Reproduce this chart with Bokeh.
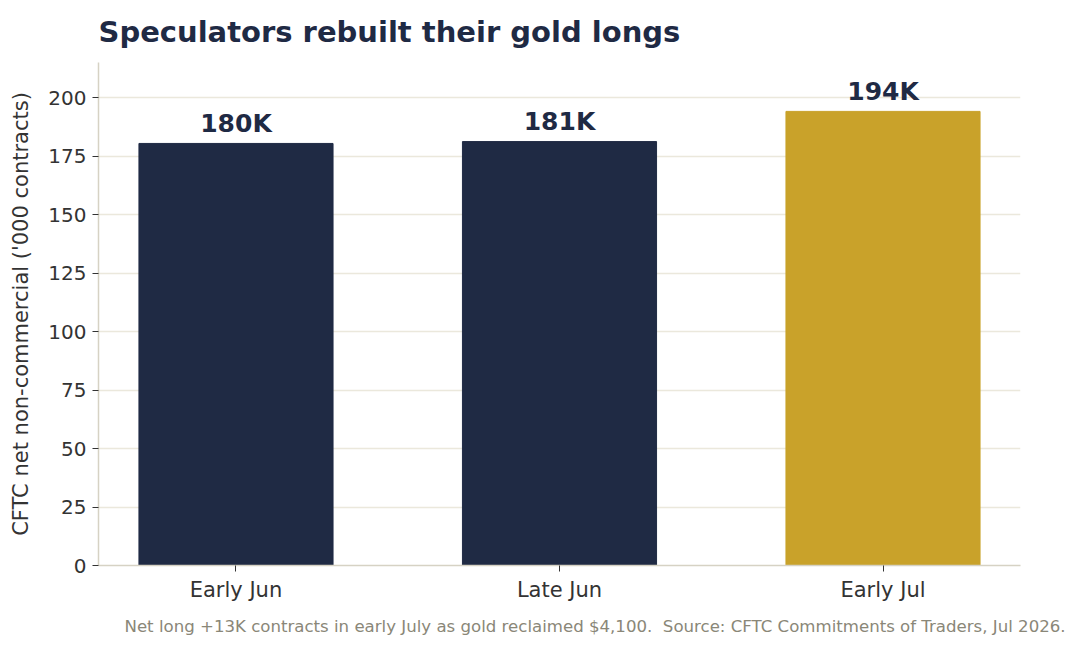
import numpy as np
from bokeh.plotting import figure
from bokeh.models import ColumnDataSource, FactorRange, Range1d, FixedTicker, Title
from bokeh.core.properties import value
from bokeh.embed import file_html
from bokeh.resources import INLINE

periods = ["Early Jun", "Late Jun", "Early Jul"]
net_longs = [180.4, 181.2, 194.1]
bar_labels = ["180K", "181K", "194K"]
bar_colors = ["#1f2a44", "#1f2a44", "#c9a22a"]
y_ticks = [0, 25, 50, 75, 100, 125, 150, 175, 200]

FONT = "DejaVu Sans"
NAVY = "#1f2a44"

src = ColumnDataSource(dict(period=periods, val=net_longs, lab=bar_labels, col=bar_colors))

p = figure(x_range=FactorRange(*periods), y_range=Range1d(0, 215),
           width=1072, height=646, output_backend="svg", toolbar_location=None,
           min_border_left=98, min_border_right=52, min_border_top=62, min_border_bottom=81)
p.x_range.range_padding = -0.05

p.vbar(x="period", top="val", width=0.6, color="col", source=src)
p.text(x="period", y="val", text="lab", source=src, text_align="center",
       text_baseline="alphabetic", y_offset=-20, text_font=value(FONT),
       text_font_style="bold", text_font_size="25px", text_color=NAVY)

p.title.text = "Speculators rebuilt their gold longs"
p.title.text_font = FONT
p.title.text_font_size = "29px"
p.title.text_font_style = "bold"
p.title.text_color = NAVY
p.title.align = "left"
p.title.vertical_align = "top"
p.title.standoff = 24

note = Title(text="Net long +13K contracts in early July as gold reclaimed $4,100.\u00a0 Source: CFTC Commitments of Traders, Jul 2026.",
             text_font=FONT, text_font_size="16.6px", text_font_style="normal",
             text_color="#8a8778", align="left", offset=26, standoff=21)
p.add_layout(note, "below")

p.yaxis.ticker = FixedTicker(ticks=y_ticks)
p.yaxis.axis_label = "CFTC net non-commercial ('000 contracts)"
p.yaxis.axis_label_text_font = FONT
p.yaxis.axis_label_text_font_style = "normal"
p.yaxis.axis_label_text_font_size = "21px"
p.yaxis.axis_label_text_color = "#333333"
p.yaxis.axis_label_standoff = 12

for ax in (p.xaxis, p.yaxis):
    ax.major_label_text_font = FONT
    ax.major_label_text_color = "#333333"
    ax.axis_line_color = "#d6d2c4"
    ax.axis_line_width = 1.5
    ax.major_tick_line_color = "#333333"
    ax.major_tick_in = 0
    ax.major_tick_out = 6
    ax.minor_tick_line_color = None
    ax.major_label_standoff = 6
p.xaxis.major_label_text_font_size = "21px"
p.yaxis.major_label_text_font_size = "20px"

p.xgrid.grid_line_color = None
p.ygrid.grid_line_color = "#ebe8dc"
p.ygrid.grid_line_width = 1.5
p.outline_line_color = None

open("out.html", "w").write(file_html(p, INLINE))
